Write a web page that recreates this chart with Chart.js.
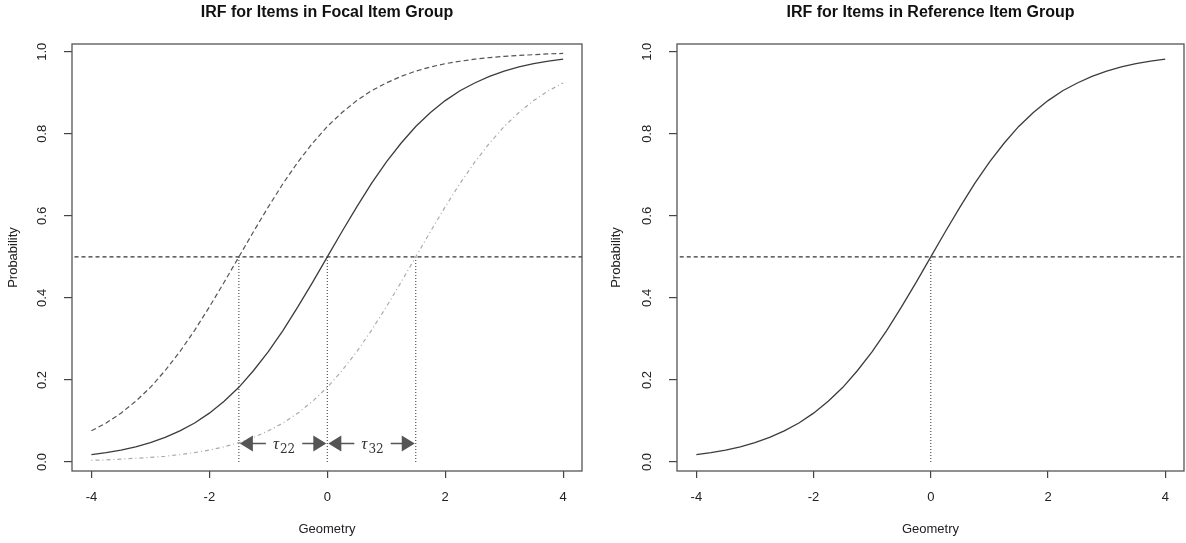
<!DOCTYPE html>
<html>
<head>
<meta charset="utf-8">
<script src="https://cdn.jsdelivr.net/npm/chart.js@4.4.1/dist/chart.umd.min.js"></script>
<style>
  html, body { margin: 0; padding: 0; background: #ffffff; }
  #wrap { position: relative; width: 1186px; height: 543px; overflow: hidden; }
  canvas { position: absolute; top: 0; }
  #c1 { left: 0; }
  #c2 { left: 593px; }
</style>
</head>
<body>
<div id="wrap">
  <canvas id="c1" width="593" height="543"></canvas>
  <canvas id="c2" width="593" height="543"></canvas>
</div>
<script>
// ---- data ----
const theta = [-4, -3.75, -3.5, -3.25, -3, -2.75, -2.5, -2.25, -2, -1.75, -1.5, -1.25, -1, -0.75, -0.5, -0.25, 0,
               0.25, 0.5, 0.75, 1, 1.25, 1.5, 1.75, 2, 2.25, 2.5, 2.75, 3, 3.25, 3.5, 3.75, 4];

// Focal group, item with lower threshold (dashed)
const focalEasy = [0.076, 0.095, 0.119, 0.148, 0.182, 0.223, 0.269, 0.321, 0.378, 0.438, 0.500, 0.562, 0.622, 0.679, 0.731, 0.777, 0.818,
                   0.852, 0.881, 0.905, 0.924, 0.940, 0.953, 0.963, 0.971, 0.977, 0.982, 0.986, 0.989, 0.991, 0.993, 0.995, 0.996];
// Focal group, middle item (solid)
const focalMid  = [0.018, 0.023, 0.029, 0.037, 0.047, 0.060, 0.076, 0.095, 0.119, 0.148, 0.182, 0.223, 0.269, 0.321, 0.378, 0.438, 0.500,
                   0.562, 0.622, 0.679, 0.731, 0.777, 0.818, 0.852, 0.881, 0.905, 0.924, 0.940, 0.953, 0.963, 0.971, 0.977, 0.982];
// Focal group, item with higher threshold (dot-dash)
const focalHard = [0.004, 0.005, 0.007, 0.009, 0.011, 0.014, 0.018, 0.023, 0.029, 0.037, 0.047, 0.060, 0.076, 0.095, 0.119, 0.148, 0.182,
                   0.223, 0.269, 0.321, 0.378, 0.438, 0.500, 0.562, 0.622, 0.679, 0.731, 0.777, 0.818, 0.852, 0.881, 0.905, 0.924];
// Reference group item (solid)
const refItem   = [0.018, 0.023, 0.029, 0.037, 0.047, 0.060, 0.076, 0.095, 0.119, 0.148, 0.182, 0.223, 0.269, 0.321, 0.378, 0.438, 0.500,
                   0.562, 0.622, 0.679, 0.731, 0.777, 0.818, 0.852, 0.881, 0.905, 0.924, 0.940, 0.953, 0.963, 0.971, 0.977, 0.982];

const xTicks = [-4, -2, 0, 2, 4];
const yTicks = [0.0, 0.2, 0.4, 0.6, 0.8, 1.0];
const halfLevel = 0.5;
const focalThresholds = [-1.5, 0, 1.5];
const refThresholds = [0];
const arrowSpans = [[-1.5, 0], [0, 1.5]];
const arrowLevel = 0.045;
const arrowSubs = ['22', '32'];

const titles = ['IRF for Items in Focal Item Group', 'IRF for Items in Reference Item Group'];
const xTitle = 'Geometry';
const yTitle = 'Probability';

// ---- helpers ----
const pts = (xs, ys) => xs.map((x, i) => ({ x: x, y: ys[i] }));
const AX = { min: -4.33, max: 4.32 };
const AY = { min: -0.022, max: 1.019 };

function hlineDS(level) {
  return { data: [{ x: -5, y: level }, { x: 5, y: level }], borderColor: '#333', borderWidth: 1.1,
           borderDash: [4, 3], pointRadius: 0, tension: 0 };
}
function vlineDS(x, level) {
  return { data: [{ x: x, y: 0 }, { x: x, y: level }], borderColor: '#444', borderWidth: 1.1,
           borderDash: [1, 2], pointRadius: 0, tension: 0 };
}

const boxPlugin = {
  id: 'box',
  afterDatasetsDraw(chart) {
    const { ctx, chartArea: a } = chart;
    ctx.save();
    ctx.strokeStyle = '#555';
    ctx.lineWidth = 1.3;
    ctx.strokeRect(a.left, a.top, a.right - a.left, a.bottom - a.top);
    ctx.restore();
  }
};

const arrowPlugin = {
  id: 'arrows',
  afterDatasetsDraw(chart, args, opts) {
    if (!opts.spans) return;
    const { ctx } = chart;
    const xs = chart.scales.x, ys = chart.scales.y;
    const y = ys.getPixelForValue(opts.level);
    ctx.save();
    opts.spans.forEach((sp, i) => {
      const x0 = xs.getPixelForValue(sp[0]);
      const x1 = xs.getPixelForValue(sp[1]);
      const mid = (x0 + x1) / 2;
      const head = 14, hh = 8;
      ctx.font = 'italic 17px "Liberation Serif", "DejaVu Serif", serif';
      const wT = ctx.measureText('τ').width;
      ctx.font = '12px "DejaVu Serif", "Liberation Serif", serif';
      const wS = ctx.measureText(opts.subs[i]).width;
      const wAll = wT + 1 + wS;
      const tx = mid - wAll / 2 + 1;
      const gap = 7;
      ctx.strokeStyle = '#555';
      ctx.lineWidth = 1.3;
      ctx.beginPath();
      ctx.moveTo(x0 + head - 1, y); ctx.lineTo(tx - gap, y);
      ctx.moveTo(tx + wAll + gap, y); ctx.lineTo(x1 - head + 1, y);
      ctx.stroke();
      ctx.fillStyle = '#555';
      ctx.beginPath();
      ctx.moveTo(x0 + 1, y); ctx.lineTo(x0 + head, y - hh); ctx.lineTo(x0 + head, y + hh); ctx.closePath();
      ctx.fill();
      ctx.beginPath();
      ctx.moveTo(x1 - 1, y); ctx.lineTo(x1 - head, y - hh); ctx.lineTo(x1 - head, y + hh); ctx.closePath();
      ctx.fill();
      ctx.fillStyle = '#333';
      ctx.textAlign = 'left';
      ctx.textBaseline = 'alphabetic';
      ctx.font = 'italic 17px "Liberation Serif", "DejaVu Serif", serif';
      ctx.fillText('τ', tx, y + 5);
      ctx.font = '12px "DejaVu Serif", "Liberation Serif", serif';
      ctx.fillText(opts.subs[i], tx + wT + 1, y + 9);
    });
    ctx.restore();
  }
};

function makeChart(canvasId, datasets, titleText, yAxisWidth, padRight, yTitlePad, arrowOpts) {
  return new Chart(document.getElementById(canvasId), {
    type: 'line',
    data: { datasets: datasets },
    plugins: [boxPlugin, arrowPlugin],
    options: {
      responsive: false,
      animation: false,
      devicePixelRatio: 1,
      layout: { padding: { left: 0, right: padRight, top: 0, bottom: 0 } },
      elements: { line: { tension: 0, fill: false, borderCapStyle: 'butt' }, point: { radius: 0 } },
      plugins: {
        legend: { display: false },
        tooltip: { enabled: false },
        title: {
          display: true, text: titleText, fullSize: false, color: '#111',
          font: { family: '"Liberation Sans", Arial, sans-serif', size: 16, weight: 'bold', lineHeight: 1.2 },
          padding: { top: 3, bottom: 21.8 }
        },
        arrows: arrowOpts || {}
      },
      scales: {
        x: {
          type: 'linear', min: AX.min, max: AX.max,
          afterBuildTicks: s => { s.ticks = xTicks.map(v => ({ value: v })); },
          afterFit: s => { s.height = 72; },
          border: { display: false },
          grid: { drawOnChartArea: false, drawTicks: true, tickLength: 7, color: '#444', lineWidth: 1.2 },
          ticks: { color: '#222', padding: 12, maxRotation: 0, autoSkip: false,
                   font: { family: '"Liberation Sans", Arial, sans-serif', size: 13 },
                   callback: v => String(v) },
          title: { display: true, text: xTitle, color: '#222', padding: { top: 0, bottom: 5.5 },
                   font: { family: '"Liberation Sans", Arial, sans-serif', size: 13, lineHeight: 1.2 } }
        },
        y: {
          type: 'linear', min: AY.min, max: AY.max,
          afterBuildTicks: s => { s.ticks = yTicks.map(v => ({ value: v })); },
          afterFit: s => { s.width = yAxisWidth; },
          border: { display: false },
          grid: { drawOnChartArea: false, drawTicks: true, tickLength: 8, color: '#444', lineWidth: 1.2 },
          ticks: { color: '#222', padding: 13, minRotation: 90, maxRotation: 90, crossAlign: 'center', autoSkip: false,
                   font: { family: '"Liberation Sans", Arial, sans-serif', size: 13 },
                   callback: v => Number(v).toFixed(1) },
          title: { display: true, text: yTitle, color: '#222', padding: { top: yTitlePad, bottom: 0 },
                   font: { family: '"Liberation Sans", Arial, sans-serif', size: 13, lineHeight: 1.2 } }
        }
      }
    }
  });
}

// Left panel
const leftSets = [
  { data: pts(theta, focalEasy), borderColor: '#555', borderWidth: 1.2, borderDash: [5, 3] },
  { data: pts(theta, focalMid), borderColor: '#3c3c3c', borderWidth: 1.3 },
  { data: pts(theta, focalHard), borderColor: '#aaa', borderWidth: 1.2, borderDash: [1, 3, 4, 3] },
  hlineDS(halfLevel)
].concat(focalThresholds.map(t => vlineDS(t, halfLevel)));

makeChart('c1', leftSets, titles[0], 72, 11, 5.2, { spans: arrowSpans, level: arrowLevel, subs: arrowSubs });

// Right panel
const rightSets = [
  { data: pts(theta, refItem), borderColor: '#3c3c3c', borderWidth: 1.3 },
  hlineDS(halfLevel)
].concat(refThresholds.map(t => vlineDS(t, halfLevel)));

makeChart('c2', rightSets, titles[1], 84, 2, 15.2, null);
</script>
</body>
</html>
